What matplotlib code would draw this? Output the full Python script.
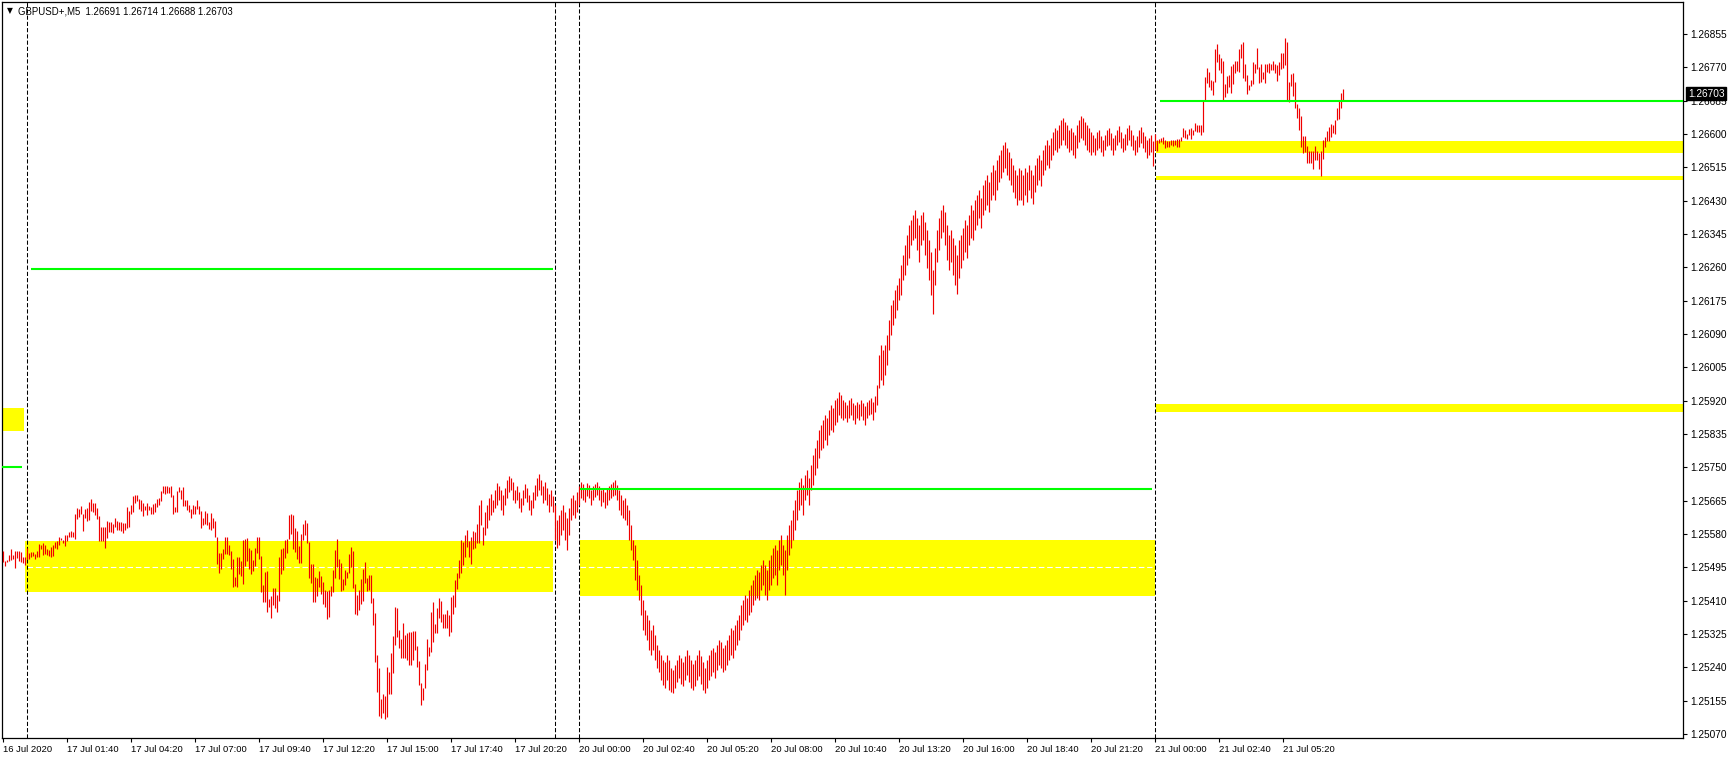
import matplotlib
matplotlib.use("Agg")
import matplotlib.pyplot as plt
from matplotlib.patches import Rectangle
from matplotlib.transforms import blended_transform_factory

plt.rcParams["font.family"] = ["Liberation Sans", "DejaVu Sans"]

# M5 bars, index 0 = 16 Jul 23:00; prices in points (0.00001) above BASE
BASE = 1.25
high_pts = [
    537, 511, 513, 527, 542, 527, 537, 537, 537, 534,
    522, 522, 545, 532, 534, 534, 529, 537, 555, 552,
    557, 552, 542, 540, 547, 552, 560, 562, 573, 570,
    565, 578, 578, 585, 588, 585, 631, 647, 644, 652,
    631, 644, 647, 662, 670, 659, 659, 647, 626, 598,
    598, 598, 613, 611, 611, 606, 621, 613, 611, 611,
    608, 608, 649, 639, 654, 677, 680, 680, 670, 667,
    659, 652, 659, 652, 649, 657, 659, 670, 672, 690,
    703, 703, 703, 700, 703, 680, 649, 690, 700, 692,
    700, 667, 667, 654, 644, 654, 652, 667, 652, 639,
    621, 639, 634, 611, 634, 621, 613, 573, 532, 532,
    542, 573, 573, 552, 537, 517, 471, 522, 522, 511,
    565, 568, 570, 545, 540, 514, 545, 573, 573, 524,
    450, 483, 486, 415, 422, 443, 443, 425, 522, 542,
    545, 565, 568, 629, 631, 629, 596, 588, 550, 580,
    606, 616, 608, 560, 504, 504, 471, 468, 486, 473,
    458, 438, 435, 438, 448, 489, 540, 568, 517, 506,
    466, 489, 483, 529, 547, 537, 453, 425, 438, 466,
    491, 509, 468, 476, 476, 417, 379, 272, 239, 159,
    172, 167, 241, 228, 277, 320, 394, 392, 336, 313,
    353, 323, 328, 330, 330, 333, 333, 295, 256, 200,
    188, 249, 313, 292, 381, 407, 351, 392, 417, 409,
    376, 376, 387, 374, 420, 425, 463, 481, 514, 565,
    560, 578, 591, 562, 573, 588, 585, 606, 654, 667,
    598, 636, 654, 672, 682, 667, 693, 710, 703, 693,
    680, 698, 718, 728, 723, 713, 693, 703, 687, 672,
    693, 708, 698, 680, 667, 687, 705, 723, 733, 718,
    703, 713, 698, 682, 693, 677, 654, 616, 629, 642,
    654, 636, 621, 647, 672, 680, 667, 687, 703, 713,
    708, 698, 710, 705, 693, 703, 708, 713, 703, 693,
    698, 687, 695, 703, 708, 713, 718, 705, 693, 680,
    667, 672, 654, 642, 603, 565, 552, 514, 476, 450,
    412, 387, 374, 361, 336, 348, 323, 297, 285, 272,
    259, 254, 272, 259, 239, 234, 246, 259, 272, 264,
    254, 269, 285, 272, 259, 249, 259, 272, 285, 269,
    254, 239, 259, 272, 285, 290, 279, 297, 310, 305,
    290, 297, 310, 323, 341, 336, 348, 361, 374, 399,
    412, 425, 417, 438, 450, 463, 476, 489, 483, 501,
    514, 501, 489, 514, 527, 545, 552, 540, 565, 578,
    552, 540, 578, 603, 616, 642, 667, 693, 713, 723,
    705, 731, 744, 723, 756, 782, 800, 820, 846, 858,
    871, 884, 876, 897, 909, 902, 922, 927, 942, 935,
    922, 917, 909, 922, 927, 914, 909, 917, 912, 922,
    914, 907, 917, 922, 927, 917, 932, 960, 1037, 1062,
    1050, 1062, 1088, 1126, 1164, 1177, 1203, 1215, 1233, 1266,
    1292, 1317, 1343, 1368, 1381, 1394, 1407, 1386, 1368, 1394,
    1401, 1376, 1356, 1330, 1299, 1254, 1310, 1356, 1386, 1407,
    1419, 1401, 1368, 1343, 1356, 1335, 1317, 1292, 1330, 1343,
    1361, 1381, 1368, 1394, 1419, 1407, 1432, 1445, 1458, 1437,
    1470, 1483, 1496, 1478, 1503, 1521, 1509, 1534, 1547, 1560,
    1572, 1580, 1565, 1554, 1539, 1521, 1509, 1496, 1514, 1509,
    1496, 1514, 1503, 1521, 1509, 1496, 1521, 1539, 1547, 1534,
    1560, 1572, 1585, 1572, 1590, 1605, 1616, 1611, 1623, 1636,
    1641, 1631, 1623, 1611, 1616, 1605, 1598, 1623, 1636, 1646,
    1641, 1631, 1623, 1616, 1605, 1598, 1590, 1605, 1611, 1595,
    1585, 1598, 1611, 1616, 1603, 1590, 1598, 1611, 1621, 1605,
    1590, 1600, 1616, 1623, 1611, 1598, 1585, 1595, 1611, 1618,
    1605, 1595, 1585, 1590, 1598, 1582, 1600, 1585, 1588, 1590,
    1593, 1585, 1582, 1582, 1585, 1585, 1585, 1588, 1588, 1593,
    1616, 1611, 1600, 1613, 1616, 1611, 1628, 1623, 1623, 1623,
    1684, 1746, 1769, 1758, 1738, 1735, 1817, 1830, 1804, 1794,
    1786, 1728, 1748, 1751, 1774, 1779, 1786, 1786, 1817, 1830,
    1835, 1779, 1751, 1725, 1738, 1784, 1779, 1820, 1771, 1779,
    1758, 1779, 1779, 1781, 1779, 1786, 1779, 1776, 1784, 1807,
    1807, 1845, 1835, 1733, 1753, 1756, 1733, 1677, 1667, 1646,
    1595, 1595, 1570, 1557, 1557, 1557, 1570, 1557, 1552, 1557,
    1585, 1593, 1608, 1618, 1626, 1623, 1636, 1667, 1684, 1705,
    1714,
]
low_pts = [
    509, 499, 509, 511, 514, 517, 494, 519, 511, 509,
    506, 501, 517, 517, 522, 524, 517, 522, 522, 542,
    527, 529, 527, 524, 522, 524, 545, 542, 552, 565,
    557, 550, 562, 573, 573, 573, 568, 619, 624, 631,
    588, 621, 613, 616, 639, 636, 629, 619, 562, 562,
    562, 545, 570, 585, 585, 583, 598, 591, 591, 588,
    583, 591, 596, 598, 631, 636, 659, 664, 644, 639,
    626, 641, 629, 641, 631, 631, 636, 649, 654, 664,
    685, 682, 685, 685, 675, 631, 636, 636, 687, 670,
    652, 652, 641, 636, 621, 631, 631, 644, 631, 596,
    603, 606, 603, 593, 591, 596, 573, 504, 481, 491,
    517, 529, 529, 527, 491, 445, 448, 445, 478, 473,
    453, 499, 511, 491, 478, 486, 499, 532, 517, 432,
    407, 407, 381, 394, 366, 399, 392, 381, 409, 478,
    489, 519, 532, 568, 580, 542, 534, 517, 506, 506,
    565, 578, 557, 468, 455, 407, 407, 422, 445, 427,
    402, 394, 364, 369, 422, 432, 468, 496, 466, 435,
    438, 450, 468, 481, 496, 443, 376, 374, 387, 402,
    409, 455, 435, 438, 404, 348, 254, 177, 116, 111,
    124, 109, 114, 172, 172, 226, 297, 318, 290, 264,
    264, 264, 259, 246, 246, 259, 285, 241, 195, 144,
    157, 188, 234, 269, 279, 305, 328, 328, 366, 356,
    341, 341, 341, 320, 330, 376, 394, 440, 468, 481,
    501, 522, 547, 522, 504, 542, 545, 557, 557, 603,
    552, 578, 596, 616, 629, 636, 647, 654, 667, 642,
    629, 654, 672, 687, 693, 667, 659, 667, 647, 636,
    654, 672, 662, 642, 629, 647, 667, 677, 693, 680,
    659, 667, 654, 636, 652, 636, 565, 545, 552, 578,
    591, 565, 540, 578, 616, 629, 621, 636, 654, 672,
    667, 662, 677, 672, 654, 667, 675, 680, 667, 652,
    662, 647, 654, 667, 672, 677, 680, 667, 642, 629,
    621, 616, 603, 565, 540, 514, 463, 438, 412, 374,
    336, 323, 310, 285, 272, 285, 259, 239, 228, 208,
    195, 188, 208, 183, 177, 175, 188, 203, 213, 198,
    193, 208, 221, 203, 188, 183, 193, 208, 218, 198,
    183, 175, 188, 208, 218, 228, 213, 234, 246, 239,
    228, 234, 246, 259, 272, 264, 285, 297, 310, 336,
    348, 361, 356, 374, 381, 399, 412, 417, 412, 438,
    450, 425, 412, 438, 450, 468, 476, 450, 489, 501,
    476, 425, 489, 527, 545, 565, 591, 616, 642, 654,
    629, 667, 680, 654, 693, 705, 731, 749, 774, 795,
    800, 820, 807, 833, 846, 840, 858, 866, 884, 876,
    871, 876, 866, 876, 884, 871, 861, 876, 871, 881,
    871, 858, 876, 884, 886, 871, 891, 909, 953, 973,
    960, 986, 1011, 1050, 1088, 1113, 1131, 1152, 1177, 1190,
    1228, 1241, 1266, 1284, 1317, 1330, 1335, 1305, 1274, 1317,
    1330, 1292, 1259, 1228, 1190, 1141, 1215, 1274, 1305, 1335,
    1350, 1317, 1279, 1254, 1274, 1241, 1215, 1192, 1233, 1259,
    1279, 1299, 1284, 1317, 1335, 1330, 1356, 1368, 1386, 1361,
    1394, 1407, 1419, 1401, 1432, 1445, 1432, 1458, 1478, 1488,
    1503, 1514, 1496, 1483, 1470, 1452, 1437, 1419, 1432, 1432,
    1419, 1445, 1427, 1458, 1437, 1422, 1452, 1470, 1483, 1468,
    1496, 1509, 1521, 1514, 1534, 1547, 1560, 1554, 1565, 1572,
    1585, 1572, 1565, 1554, 1560, 1547, 1539, 1565, 1580, 1590,
    1585, 1572, 1560, 1554, 1547, 1554, 1547, 1560, 1565, 1554,
    1544, 1560, 1570, 1572, 1560, 1547, 1560, 1572, 1580, 1565,
    1554, 1560, 1572, 1585, 1570, 1560, 1547, 1554, 1567, 1577,
    1565, 1554, 1539, 1547, 1554, 1519, 1560, 1557, 1577, 1580,
    1575, 1565, 1567, 1567, 1572, 1570, 1572, 1567, 1567, 1582,
    1593, 1590, 1588, 1598, 1588, 1598, 1608, 1605, 1605, 1598,
    1605, 1687, 1730, 1720, 1712, 1700, 1733, 1784, 1764, 1756,
    1684, 1695, 1705, 1720, 1705, 1728, 1756, 1761, 1758, 1794,
    1743, 1735, 1702, 1712, 1723, 1728, 1756, 1766, 1730, 1733,
    1741, 1730, 1758, 1756, 1764, 1764, 1756, 1735, 1751, 1766,
    1769, 1776, 1687, 1682, 1723, 1697, 1667, 1641, 1611, 1567,
    1552, 1554, 1526, 1526, 1526, 1511, 1534, 1534, 1511, 1493,
    1537, 1567, 1582, 1582, 1593, 1603, 1600, 1636, 1639, 1667,
    1688,
]

time_tick_bars = [0, 32, 64, 96, 128, 160, 192, 224, 256, 288, 320,
                  352, 384, 416, 448, 480, 512, 544, 576, 608, 640]
time_tick_labels = [
    "16 Jul 2020", "17 Jul 01:40", "17 Jul 04:20", "17 Jul 07:00",
    "17 Jul 09:40", "17 Jul 12:20", "17 Jul 15:00", "17 Jul 17:40",
    "17 Jul 20:20", "20 Jul 00:00", "20 Jul 02:40", "20 Jul 05:20",
    "20 Jul 08:00", "20 Jul 10:40", "20 Jul 13:20", "20 Jul 16:00",
    "20 Jul 18:40", "20 Jul 21:20", "21 Jul 00:00", "21 Jul 02:40",
    "21 Jul 05:20",
]
price_ticks = [1.25070, 1.25155, 1.25240, 1.25325, 1.25410, 1.25495,
               1.25580, 1.25665, 1.25750, 1.25835, 1.25920, 1.26005,
               1.26090, 1.26175, 1.26260, 1.26345, 1.26430, 1.26515,
               1.26600, 1.26685, 1.26770, 1.26855]
day_separators = [12, 276, 288, 576]

# (bar from, bar to, price low, price high)
zone_bars = [(-0.5, 10.5), (11, 275), (288.5, 575.75),
             (576.5, 840), (576.5, 840), (576.5, 840)]
zone_prices = [(1.25843, 1.25902), (1.25432, 1.25562), (1.25423, 1.25565),
               (1.26553, 1.26582), (1.26484, 1.26494), (1.25892, 1.25912)]
level_bars = [(-0.5, 9.5), (14, 275), (288.5, 574.5), (578.5, 840)]
level_prices = [1.25752, 1.26256, 1.25696, 1.26685]
mid_bars = [(12, 275), (288.5, 574.5)]
mid_price = 1.25496

symbol = "GBPUSD+,M5"
ohlc = [1.26691, 1.26714, 1.26688, 1.26703]

W, H = 1729, 759
fig = plt.figure(figsize=(W / 100, H / 100), dpi=100)
fig.patch.set_facecolor("white")
ax = fig.add_axes([2 / W, (H - 738) / H, (1683 - 2) / W, (738 - 2) / H])
ax.set_xlim(-0.5, 840)
ax.set_ylim(1.250601, 1.26937)

for (x0, x1), (p0, p1) in zip(zone_bars, zone_prices):
    ax.add_patch(Rectangle((x0, p0), x1 - x0, p1 - p0, facecolor="#FFFF00",
                           edgecolor="none", zorder=1))
for x0, x1 in mid_bars:
    ax.plot([x0, x1], [mid_price, mid_price], color="white", lw=0.8,
            dashes=(5, 2.5), zorder=2)
for b in day_separators:
    ax.axvline(b, color="black", lw=0.75, dashes=(4, 2), zorder=2)

bars = list(range(len(high_pts)))
highs = [BASE + v / 1e5 for v in high_pts]
lows = [BASE + v / 1e5 for v in low_pts]
ax.vlines(bars, lows, highs, colors="#F00000", lw=0.85, zorder=3)

for (x0, x1), p in zip(level_bars, level_prices):
    ax.plot([x0, x1], [p, p], color="#00FF00", lw=1.5, solid_capstyle="butt", zorder=4)

for s in ax.spines.values():
    s.set_color("black")
    s.set_linewidth(0.9)

ax.yaxis.tick_right()
ax.set_yticks(price_ticks)
ax.set_yticklabels([f"{p:.5f}" for p in price_ticks])
ax.tick_params(axis="y", direction="out", length=3, width=0.8, pad=2.5,
               labelsize=7.3, colors="black")
ax.set_xticks(time_tick_bars)
ax.set_xticklabels(time_tick_labels, ha="left")
ax.tick_params(axis="x", direction="out", length=3, width=0.8, pad=2,
               labelsize=6.8, colors="black")

# current price marker on the price scale
trans = blended_transform_factory(ax.transAxes, ax.transData)
ax.text(1.0 + 5 / (1683 - 2), ohlc[3], f"{ohlc[3]:.5f}", transform=trans,
        ha="left", va="center", fontsize=7.3, color="white", zorder=10,
        clip_on=False,
        bbox=dict(boxstyle="square,pad=0.15", facecolor="black", edgecolor="black"))

fig.text(7 / W, 1 - 11 / H, "\u25bc", fontsize=5.5, ha="left", va="center",
         family="DejaVu Sans")
fig.text(18 / W, 1 - 11 / H, symbol + "  " + " ".join(f"{v:.5f}" for v in ohlc),
         fontsize=6.9, ha="left", va="center")

fig.savefig("out.png", dpi=100, facecolor="white")
